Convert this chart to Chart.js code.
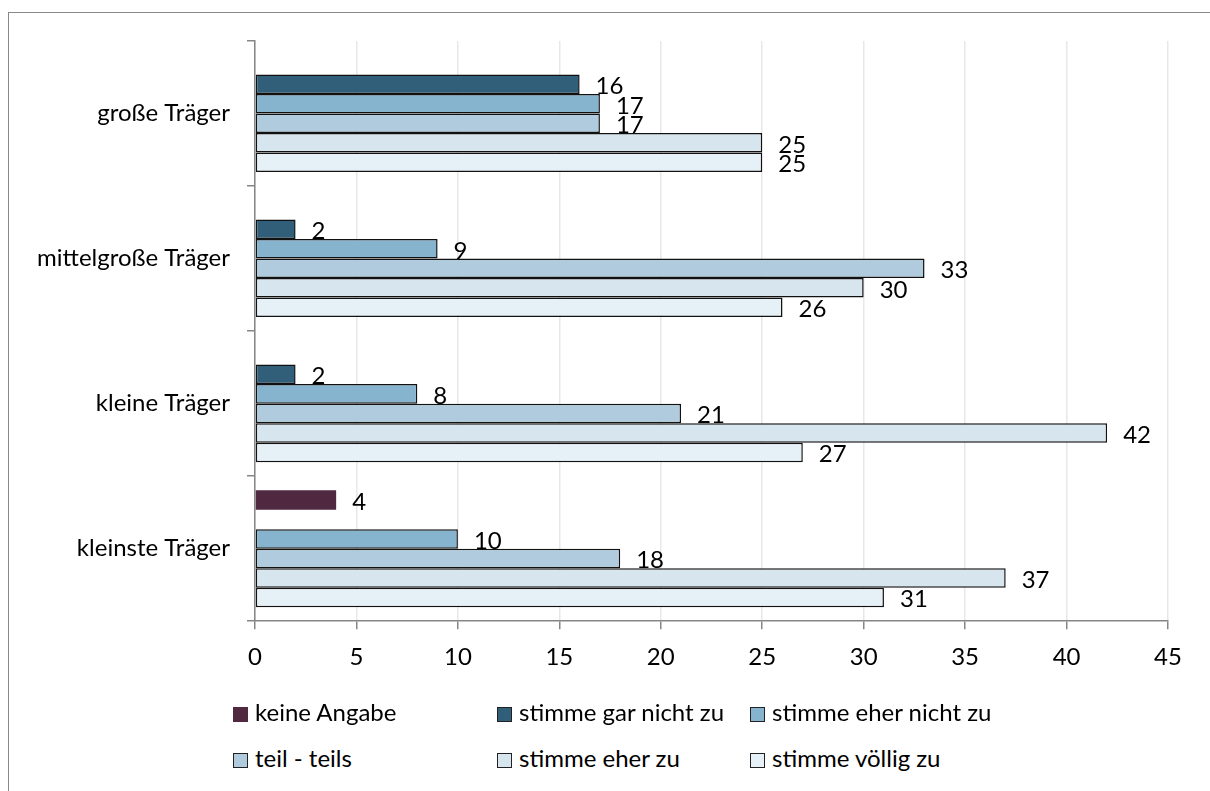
<!DOCTYPE html>
<html>
<head>
<meta charset="utf-8">
<script src="https://cdn.jsdelivr.net/npm/chart.js@4"></script>
<style>
  html,body{margin:0;padding:0;background:#fff;}
  #wrap{position:relative;width:1210px;height:791px;overflow:hidden;font-family:Lato,'Open Sans',sans-serif;}
  #frame{position:absolute;left:8px;top:12px;width:1300px;height:900px;border-left:1.5px solid #888;border-top:1.5px solid #888;}
  #c{position:absolute;left:0;top:0;}
  .lg{position:absolute;font-size:24px;color:#000;white-space:nowrap;line-height:28px;}
  .lg i{display:inline-block;width:15px;height:15px;margin-right:7px;vertical-align:-1px;box-sizing:border-box;}
</style>
</head>
<body>
<div id="wrap">
  <div id="frame"></div>
  <canvas id="c" width="1210" height="700"></canvas>
  <div id="legend"></div>
</div>
<script>
const traeger=['große Träger','mittelgroße Träger','kleine Träger','kleinste Träger'];
const keineAngabe=[null,null,null,4];
const garNicht=[16,2,2,null];
const eherNicht=[17,9,8,10];
const teilTeils=[17,33,21,18];
const eherZu=[25,30,42,37];
const voellig=[25,26,27,31];
const xTicks=[0,5,10,15,20,25,30,35,40,45];

const serien=[
  {label:'keine Angabe',data:keineAngabe,color:'#50283F',border:0},
  {label:'stimme gar nicht zu',data:garNicht,color:'#315E79',border:1.5},
  {label:'stimme eher nicht zu',data:eherNicht,color:'#86B4CF',border:1.5},
  {label:'teil - teils',data:teilTeils,color:'#AFCBDD',border:1.5},
  {label:'stimme eher zu',data:eherZu,color:'#D7E5EF',border:1.5},
  {label:'stimme völlig zu',data:voellig,color:'#E6F0F7',border:1.5}
];

const FONT='Lato';
const FS=24;

// Werte rechts neben die Balken schreiben
const wertLabels={
  id:'wertLabels',
  afterDatasetsDraw(chart){
    const ctx=chart.ctx;
    ctx.save();
    ctx.font=FS+'px '+FONT;
    ctx.fillStyle='#000';
    ctx.textAlign='left';
    ctx.textBaseline='middle';
    chart.data.datasets.forEach((ds,i)=>{
      chart.getDatasetMeta(i).data.forEach((bar,j)=>{
        const v=ds.data[j];
        if(v==null) return;
        ctx.fillText(String(v),bar.x+16,bar.y+2);
      });
    });
    ctx.restore();
  }
};

new Chart(document.getElementById('c'),{
  type:'bar',
  data:{
    labels:traeger,
    datasets:serien.map(s=>({
      label:s.label,
      data:s.data,
      backgroundColor:s.color,
      borderColor:'#111',
      borderWidth:s.border,
      borderSkipped:false,
      categoryPercentage:0.807,
      barPercentage:1
    }))
  },
  options:{
    indexAxis:'y',
    responsive:false,
    animation:false,
    layout:{padding:{left:20,right:42,top:41,bottom:14}},
    plugins:{legend:{display:false},tooltip:{enabled:false}},
    scales:{
      x:{
        min:0,max:45,
        afterBuildTicks(s){s.ticks=xTicks.map(v=>({value:v}));},
        grid:{color:'#e8e8e8',lineWidth:1.5,tickColor:'#868686',tickLength:8},
        border:{color:'#868686',width:1.5},
        ticks:{color:'#000',font:{family:FONT,size:FS},padding:14}
      },
      y:{
        afterFit(s){s.width=235;},
        grid:{drawOnChartArea:false,color:'#868686',lineWidth:1.5,tickLength:8},
        border:{color:'#868686',width:1.5},
        ticks:{color:'#000',font:{family:FONT,size:FS},padding:17}
      }
    }
  },
  plugins:[wertLabels]
});

// Legende in drei Spalten
const lgPos=[[233,698],[497,698],[750,698],[233,744],[497,744],[750,744]];
const lg=document.getElementById('legend');
serien.forEach((s,i)=>{
  const d=document.createElement('div');
  d.className='lg';
  d.style.left=lgPos[i][0]+'px';
  d.style.top=lgPos[i][1]+'px';
  const b=document.createElement('i');
  b.style.background=s.color;
  if(s.border) b.style.border='1.5px solid #222';
  d.appendChild(b);
  d.appendChild(document.createTextNode(s.label));
  lg.appendChild(d);
});
</script>
</body>
</html>
